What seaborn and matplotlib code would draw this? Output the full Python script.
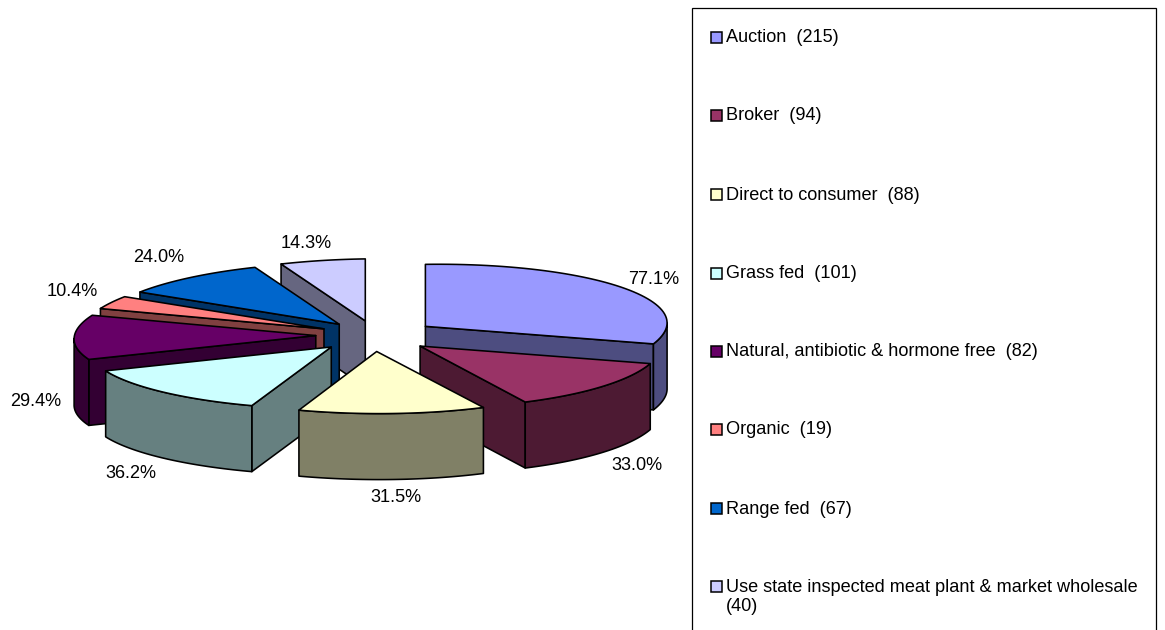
import numpy as np
import matplotlib
matplotlib.use("Agg")
import matplotlib.pyplot as plt
from matplotlib.patches import Polygon, Rectangle
import seaborn as sns

# chart data
categories = ["Auction", "Broker", "Direct to consumer", "Grass fed",
              "Natural, antibiotic & hormone free", "Organic", "Range fed",
              "Use state inspected meat plant & market wholesale"]
counts = [215, 94, 88, 101, 82, 19, 67, 40]
percents = [77.1, 33.0, 31.5, 36.2, 29.4, 10.4, 24.0, 14.3]
colors = ["#9999FF", "#993366", "#FFFFCC", "#CCFFFF",
          "#660066", "#FF8080", "#0066CC", "#CCCCFF"]

# where the percent labels sit, in pixels
label_pos = [(654, 280), (637, 466), (396, 498), (131, 474),
             (36, 401), (72, 292), (159, 257), (306, 244)]
legend_rows = [37, 115, 194, 273, 351, 429, 508, 586]

# back to front
draw_order = [7, 6, 5, 4, 3, 0, 1, 2]

# fake 3d projection settings
CX, CY = 376, 336
RX, RY = 241.7, 62
DEPTH = 66
EXPLODE = 0.25
LW = 1.15
FONT = 13.05

sns.set_theme(style="white")
plt.rcParams["font.family"] = ["Liberation Sans", "DejaVu Sans"]
palette = sns.color_palette(colors)


def project(u, v):
    """disc coordinates to pixels"""
    u, v = np.asarray(u, float), np.asarray(v, float)
    x = CX + RX * u + 11 * np.minimum(v, 0) ** 2
    y = CY - RY * v - 3.5 * u
    return np.column_stack([x, y])


def warp(a):
    # the left side of the original disc is a bit squashed in angle
    return a - 10 * np.exp(-((a - 275) / 20) ** 2)


def rim(a1, a2, mid):
    t = np.radians(warp(np.linspace(a1, a2, 60)))
    m = np.radians(mid)
    return project(np.sin(t) + EXPLODE * np.sin(m), np.cos(t) + EXPLODE * np.cos(m))


def apex(mid):
    m = np.radians(mid)
    return project([EXPLODE * np.sin(m)], [EXPLODE * np.cos(m)])


def lower(pts):
    return pts + np.array([0, DEPTH])


def face(ax, pts, color):
    ax.add_patch(Polygon(pts, closed=True, facecolor=color, edgecolor="black",
                         linewidth=LW, joinstyle="round"))


def draw_slice(ax, a1, a2, color):
    mid = (a1 + a2) / 2
    dark = tuple(c * 0.5 for c in color)
    tip = apex(mid)

    # side walls that face the viewer
    if np.sin(np.radians(a1)) < 0:
        edge = np.vstack([tip, rim(a1, a1, mid)[:1]])
        face(ax, np.vstack([edge, lower(edge)[::-1]]), dark)
    if np.sin(np.radians(a2)) > 0:
        edge = np.vstack([tip, rim(a2, a2, mid)[:1]])
        face(ax, np.vstack([edge, lower(edge)[::-1]]), dark)

    # outer wall, front half only
    lo, hi = max(a1, 90), min(a2, 280)
    if lo < hi:
        arc = rim(lo, hi, mid)
        face(ax, np.vstack([arc, lower(arc)[::-1]]), dark)

    # top
    face(ax, np.vstack([tip, rim(a1, a2, mid)]), color)


fig = plt.figure(figsize=(11.65, 6.30), dpi=100)
ax = fig.add_axes([0, 0, 1, 1])
ax.set_xlim(0, 1165)
ax.set_ylim(630, 0)
ax.axis("off")

edges = np.concatenate([[0], np.cumsum(counts)]) / np.sum(counts) * 360
for i in draw_order:
    draw_slice(ax, edges[i], edges[i + 1], palette[i])

for p, (x, y) in zip(percents, label_pos):
    ax.text(x, y, f"{p:.1f}%", ha="center", va="center", fontsize=FONT, color="black")

# legend box runs off the bottom of the image
ax.add_patch(Rectangle((691.5, 7.5), 464, 640, facecolor="white", edgecolor="black",
                       linewidth=0.9, clip_on=True))
for name, n, c, y in zip(categories, counts, palette, legend_rows):
    ax.add_patch(Rectangle((710.5, y - 5.5), 11, 11, facecolor=c, edgecolor="black", linewidth=1.1))
    label = f"{name}  ({n})"
    if len(label) > 50:
        label = f"{name}\n({n})"
    ax.text(726, y - 7.5, label, ha="left", va="top", fontsize=FONT, color="black",
            linespacing=1.17)

fig.savefig("out.png", dpi=100, facecolor="white")
